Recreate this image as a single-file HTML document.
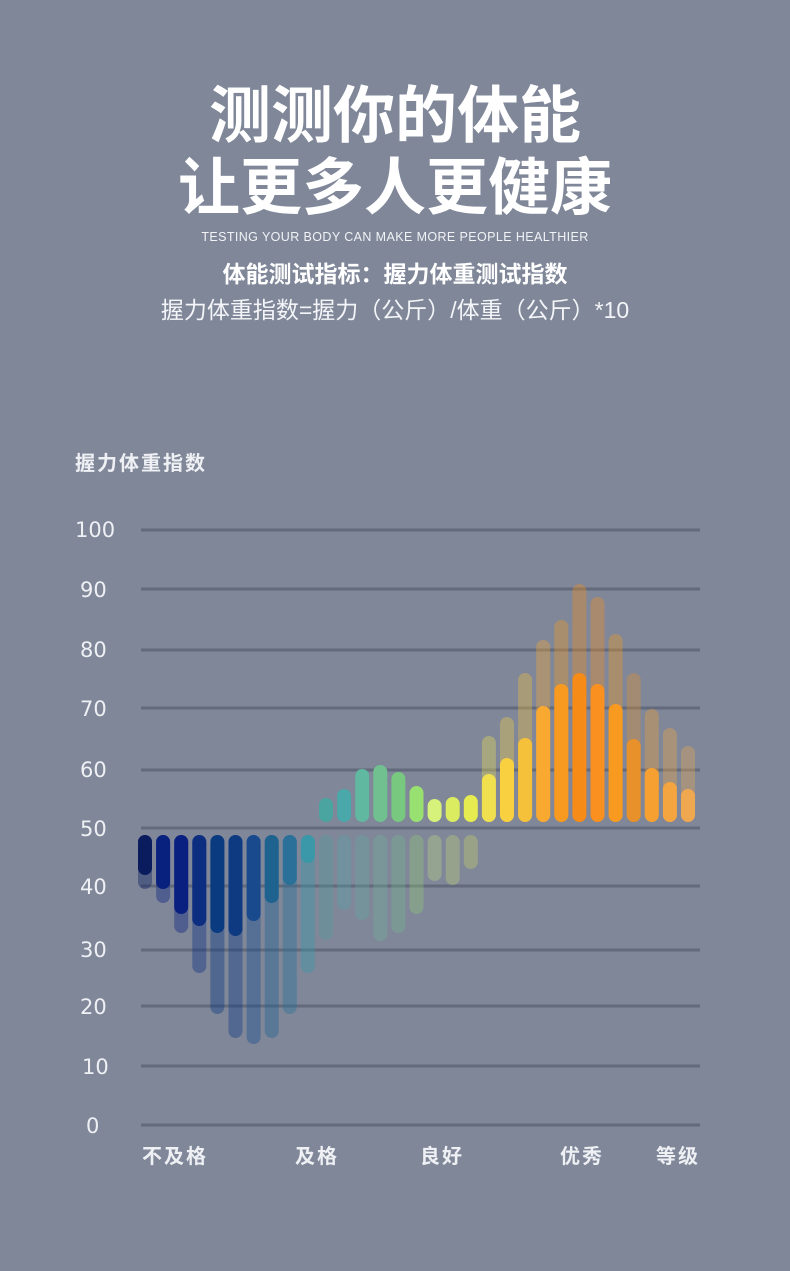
<!DOCTYPE html>
<html><head><meta charset="utf-8"><style>
body{margin:0;background:#7f8799;}
svg{display:block}
</style></head><body>
<svg width="790" height="1271" xmlns="http://www.w3.org/2000/svg" font-family="Liberation Sans, Noto Sans CJK SC, sans-serif">
<rect width="790" height="1271" fill="#7f8799"/>
<g fill="#ffffff" text-anchor="middle">
<text x="395" y="137" font-size="62" font-weight="bold" font-family="Noto Sans CJK SC, sans-serif">测测你的体能</text>
<text x="395" y="209" font-size="62" font-weight="bold" font-family="Noto Sans CJK SC, sans-serif">让更多人更健康</text>
<text x="395" y="241" font-size="12.5" fill="#f2f3f6" letter-spacing="0.4">TESTING YOUR BODY CAN MAKE MORE PEOPLE HEALTHIER</text>
<text x="395" y="282" font-size="23" font-weight="bold" font-family="Noto Sans CJK SC, sans-serif">体能测试指标：握力体重测试指数</text>
<text x="395" y="318" font-size="23" fill="#f4f5f8" font-family="Liberation Sans, Noto Sans CJK SC, sans-serif">握力体重指数=握力（公斤）/体重（公斤）*10</text>
</g>
<text x="75" y="470" font-size="20" fill="#eef0f4" font-weight="bold" font-family="Noto Sans CJK SC, sans-serif" letter-spacing="2">握力体重指数</text>
<g stroke="#626a7c" stroke-width="3">
<line x1="141" x2="700" y1="530" y2="530"/><line x1="141" x2="700" y1="589" y2="589"/>
<line x1="141" x2="700" y1="650" y2="650"/><line x1="141" x2="700" y1="708" y2="708"/>
<line x1="141" x2="700" y1="770" y2="770"/><line x1="141" x2="700" y1="828" y2="828"/>
<line x1="141" x2="700" y1="886" y2="886"/><line x1="141" x2="700" y1="950" y2="950"/>
<line x1="141" x2="700" y1="1006" y2="1006"/><line x1="141" x2="700" y1="1066" y2="1066"/>
<line x1="141" x2="700" y1="1125" y2="1125"/>
</g>
<g fill="#eef0f4" font-size="21" font-family="DejaVu Sans, sans-serif">
<text x="75" y="537">100</text><text x="80" y="597">90</text><text x="80" y="657">80</text>
<text x="80" y="716">70</text><text x="80" y="777">60</text><text x="80" y="836">50</text>
<text x="80" y="894">40</text><text x="80" y="957">30</text><text x="80" y="1014">20</text>
<text x="82" y="1074">10</text><text x="86" y="1133">0</text>
</g>
<g fill="#eef0f4" font-size="20" font-weight="bold" font-family="Noto Sans CJK SC, sans-serif" letter-spacing="2">
<text x="142" y="1163">不及格</text><text x="295" y="1163">及格</text><text x="420" y="1163">良好</text>
<text x="560" y="1163">优秀</text><text x="656" y="1163">等级</text>
</g>
<g id="bars"></g>
<script>
var g=document.getElementById('bars');
function bar(i,y1,y2,c,op){var cx=145+18.1*i;var r=document.createElementNS('http://www.w3.org/2000/svg','rect');
r.setAttribute('x',cx-7);r.setAttribute('y',y1);r.setAttribute('width',14);r.setAttribute('height',y2-y1);
r.setAttribute('rx',7);r.setAttribute('fill',c);if(op)r.setAttribute('opacity',op);g.appendChild(r);}
var bf=[889,903,933,973,1014,1038,1044,1038,1014,973,940,910,920,941,933,914,881,885,869];
var bs=[875,889,914,926,933,936,921,903,885,863];
var bc=['#0b1c5e','#08207e','#0a2080','#0c2d80','#0a3a80','#0e3a82','#1a4a8e','#1e6290','#2a7098','#3a98a8',
'#4aa0a0','#50a8a8','#60b0a0','#70b898','#78c090','#98d870','#c8e880','#d0e070','#d8e060'];
for(var i=0;i<19;i++){bar(i,835,bf[i],bc[i],i<10?0.4:0.3);}
for(var i=0;i<10;i++){bar(i,835,bs[i],bc[i]);}
var tt=[798,789,769,765,772,786,799,797,795];
var tc=['#4aa5a0','#4aa8aa','#60b8a0','#70c090','#78c880','#98e070','#d6f27a','#dcec60','#e6ec50'];
for(var i=0;i<9;i++)bar(10+i,tt[i],822,tc[i]);
var sf=[736,717,673,640,620,584,597,634,673,709,728,746];
var ss=[774,758,738,706,684,673,684,704,739,768,782,789];
var sc=['#f0e050','#f9d040','#f5c03a','#f9a830','#f99a20','#f78b18','#f99020','#f99a20','#e8902a','#f5a030','#f5a540','#f0a850'];
for(var i=0;i<12;i++){bar(19+i,sf[i],822,sc[i],0.35);bar(19+i,ss[i],822,sc[i]);}
</script>
</svg>
</body></html>
